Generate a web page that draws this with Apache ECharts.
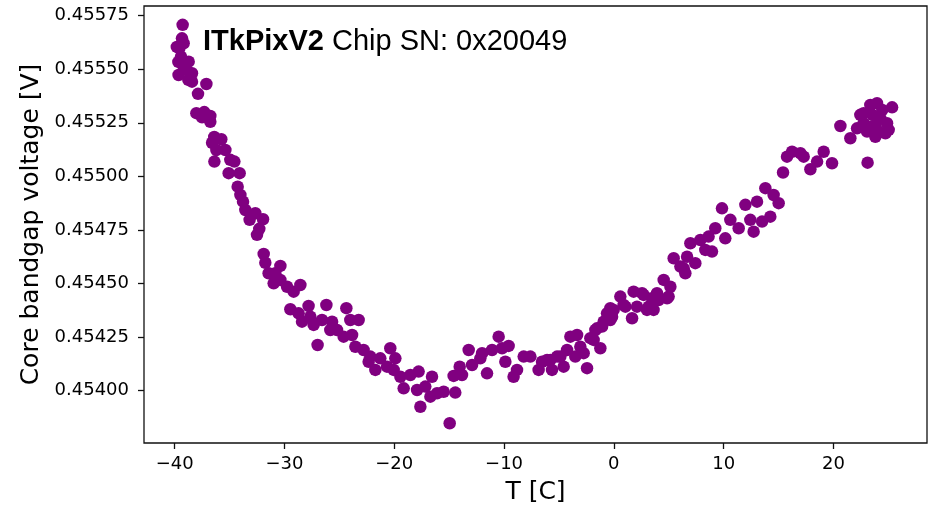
<!DOCTYPE html>
<html>
<head>
<meta charset="utf-8">
<script src="https://cdn.jsdelivr.net/npm/echarts@6/dist/echarts.min.js"></script>
<style>
html,body{margin:0;padding:0;background:#fff;}
#chart{width:952px;height:505px;}
</style>
</head>
<body>
<div id="chart"></div>
<script>
// Temperature [C]
var tempC = [
-39.27,-39.33,-39.57,-39.18,-39.42,-38.72,-39.64,-39.18,-38.42,-38.42,
-37.11,-37.87,-38.02,-37.50,-36.75,-36.75,-36.59,-35.75,-36.20,-35.38,
-36.38,-34.56,-35.08,-34.08,-34.26,-33.77,-33.56,-32.65,-33.17,-31.95,
-32.50,-32.29,-39.80,-39.66,-38.93,-38.75,-37.30,-36.39,-34.93,-34.01,
-31.89,-31.74,-30.37,-31.44,-30.83,-30.98,-30.37,-29.76,-29.16,-28.55,
-29.46,-28.71,-27.80,-28.40,-27.64,-27.34,-26.18,-26.58,-25.66,-25.82,
-24.36,-25.21,-24.61,-24.00,-23.24,-23.84,-26.98,-23.54,-22.79,-22.18,
-22.33,-21.72,-21.27,-20.36,-19.90,-20.66,-20.05,-19.44,-19.14,-18.53,
-17.92,-17.62,-17.78,-16.56,-17.17,-16.10,-15.50,-14.44,-16.71,-14.95,
-14.59,-13.83,-14.04,-13.22,-12.91,-12.00,-12.16,-11.55,-11.09,-10.49,
-10.18,-9.58,-9.88,-9.13,-8.82,-8.21,-7.60,-6.85,-6.54,-5.78,
-5.63,-5.17,-4.57,-4.26,-3.96,-3.35,-3.51,-3.05,-2.44,-2.75,
-1.99,-1.23,-1.53,-0.93,-0.62,-0.32,-1.84,-1.68,-1.07,-0.32,
-0.02,0.59,1.05,1.66,2.11,1.80,2.71,3.17,3.62,3.48,
3.93,4.54,5.15,4.85,5.45,6.06,6.51,6.67,6.97,7.42,
7.88,8.33,8.94,9.24,8.63,10.15,9.85,10.61,11.37,11.98,
12.43,12.73,13.04,13.50,14.25,13.80,14.55,15.01,15.41,15.77,
16.23,16.99,17.29,17.90,18.51,19.11,19.87,20.63,21.54,22.15,
22.75,23.11,23.36,23.97,25.34,22.75,23.36,23.82,24.27,24.88,
25.03,24.73,24.12,23.06,23.55,24.45,22.45,23.82,-6.08,-4.87,
-2.14,-0.16,0.89,2.57,3.02,4.08,4.99,6.36
];
// Core bandgap voltage [V]
var voltage = [
0.455707,0.455644,0.455598,0.455621,0.455559,0.455535,0.455473,0.455512,0.455481,0.455442,
0.455431,0.455385,0.455295,0.455276,0.455282,0.455255,0.455157,0.455173,0.455123,0.455123,
0.455069,0.455069,0.455015,0.455015,0.454952,0.454882,0.454843,0.454828,0.454797,0.454800,
0.454727,0.454755,0.455604,0.455534,0.455497,0.455450,0.455300,0.455184,0.455077,0.454913,
0.454638,0.454597,0.454582,0.454548,0.454548,0.454501,0.454517,0.454485,0.454462,0.454493,
0.454380,0.454361,0.454395,0.454322,0.454345,0.454307,0.454400,0.454330,0.454322,0.454283,
0.454385,0.454283,0.454252,0.454330,0.454330,0.454260,0.454213,0.454205,0.454190,0.454159,
0.454135,0.454097,0.454151,0.454198,0.454151,0.454112,0.454097,0.454065,0.454011,0.454073,
0.454003,0.453925,0.454089,0.454065,0.454019,0.453988,0.453995,0.453991,0.453972,0.453848,
0.454069,0.454073,0.454112,0.454190,0.454120,0.454175,0.454151,0.454081,0.454190,0.454252,
0.454198,0.454209,0.454135,0.454065,0.454097,0.454159,0.454159,0.454097,0.454135,0.454143,
0.454097,0.454159,0.454112,0.454190,0.454252,0.454260,0.454159,0.454205,0.454105,0.454175,
0.454245,0.454198,0.454291,0.454322,0.454361,0.454385,0.454237,0.454283,0.454299,0.454330,
0.454377,0.454439,0.454392,0.454338,0.454392,0.454462,0.454447,0.454392,0.454377,0.454431,
0.454455,0.454517,0.454485,0.454431,0.454618,0.454579,0.454548,0.454625,0.454688,0.454595,
0.454703,0.454657,0.454649,0.454758,0.454719,0.454711,0.454851,0.454797,0.454758,0.454867,
0.454797,0.454742,0.454882,0.454789,0.454812,0.454945,0.454913,0.454875,0.455018,0.455092,
0.455115,0.455108,0.455092,0.455033,0.455069,0.455115,0.455061,0.455235,0.455178,0.455224,
0.455295,0.455064,0.455333,0.455341,0.455322,0.455248,0.455232,0.455185,0.455271,0.455248,
0.455217,0.455201,0.455209,0.455209,0.455287,0.455310,0.455287,0.455240,0.454143,0.454159,
0.454245,0.454345,0.454400,0.454455,0.454377,0.454423,0.454439,0.454571
];
var xTicks = [-40, -30, -20, -10, 0, 10, 20];
var yTicks = [0.45400, 0.45425, 0.45450, 0.45475, 0.45500, 0.45525, 0.45550, 0.45575];
var titleBold = 'ITkPixV2';
var titleRest = ' Chip SN: 0x20049';
var xName = 'T [C]';
var yName = 'Core bandgap voltage [V]';

var points = tempC.map(function (t, i) { return [t, voltage[i]]; });

var chart = echarts.init(document.getElementById('chart'), null, {renderer: 'canvas'});
var tickFont = {fontFamily: 'DejaVu Sans', fontSize: 18, color: '#000'};
chart.setOption({
  animation: false,
  backgroundColor: '#fff',
  title: {
    left: 203,
    top: 27,
    padding: 0,
    text: '{b|' + titleBold + '}{n|' + titleRest + '}',
    textStyle: {
      rich: {
        b: {fontFamily: 'Liberation Sans', fontWeight: 'bold', fontSize: 29, color: '#000'},
        n: {fontFamily: 'Liberation Sans', fontWeight: 'normal', fontSize: 29, color: '#000'}
      }
    }
  },
  grid: {
    left: 144, right: 25, top: 6, bottom: 62,
    outerBoundsMode: 'none',
    containLabel: false,
    show: true, borderColor: '#111', borderWidth: 1.3, backgroundColor: '#fff'
  },
  xAxis: {
    type: 'value',
    min: -42.79, max: 28.52,
    name: xName,
    nameLocation: 'middle',
    nameGap: 37,
    nameTextStyle: {fontFamily: 'DejaVu Sans', fontSize: 25, color: '#000'},
    axisLine: {show: false, onZero: false},
    splitLine: {show: false},
    axisTick: {show: true, inside: false, length: 6, customValues: xTicks, lineStyle: {color: '#111', width: 1.3}},
    axisLabel: Object.assign({
      customValues: xTicks,
      margin: 12,
      formatter: function (v) { return String(v).replace('-', '\u2212'); }
    }, tickFont)
  },
  yAxis: {
    type: 'value',
    min: 0.4537559, max: 0.4557949,
    name: yName,
    nameLocation: 'middle',
    nameGap: 99,
    nameRotate: 90,
    nameTextStyle: {fontFamily: 'DejaVu Sans', fontSize: 25, color: '#000'},
    axisLine: {show: false, onZero: false},
    splitLine: {show: false},
    axisTick: {show: true, inside: false, length: 6, customValues: yTicks, lineStyle: {color: '#111', width: 1.3}},
    axisLabel: Object.assign({
      customValues: yTicks,
      margin: 15,
      formatter: function (v) { return v.toFixed(5); }
    }, tickFont)
  },
  series: [{
    type: 'scatter',
    data: points,
    symbol: 'circle',
    symbolSize: 12.5,
    itemStyle: {color: '#800080', opacity: 1},
    emphasis: {disabled: true}
  }]
});
</script>
</body>
</html>
